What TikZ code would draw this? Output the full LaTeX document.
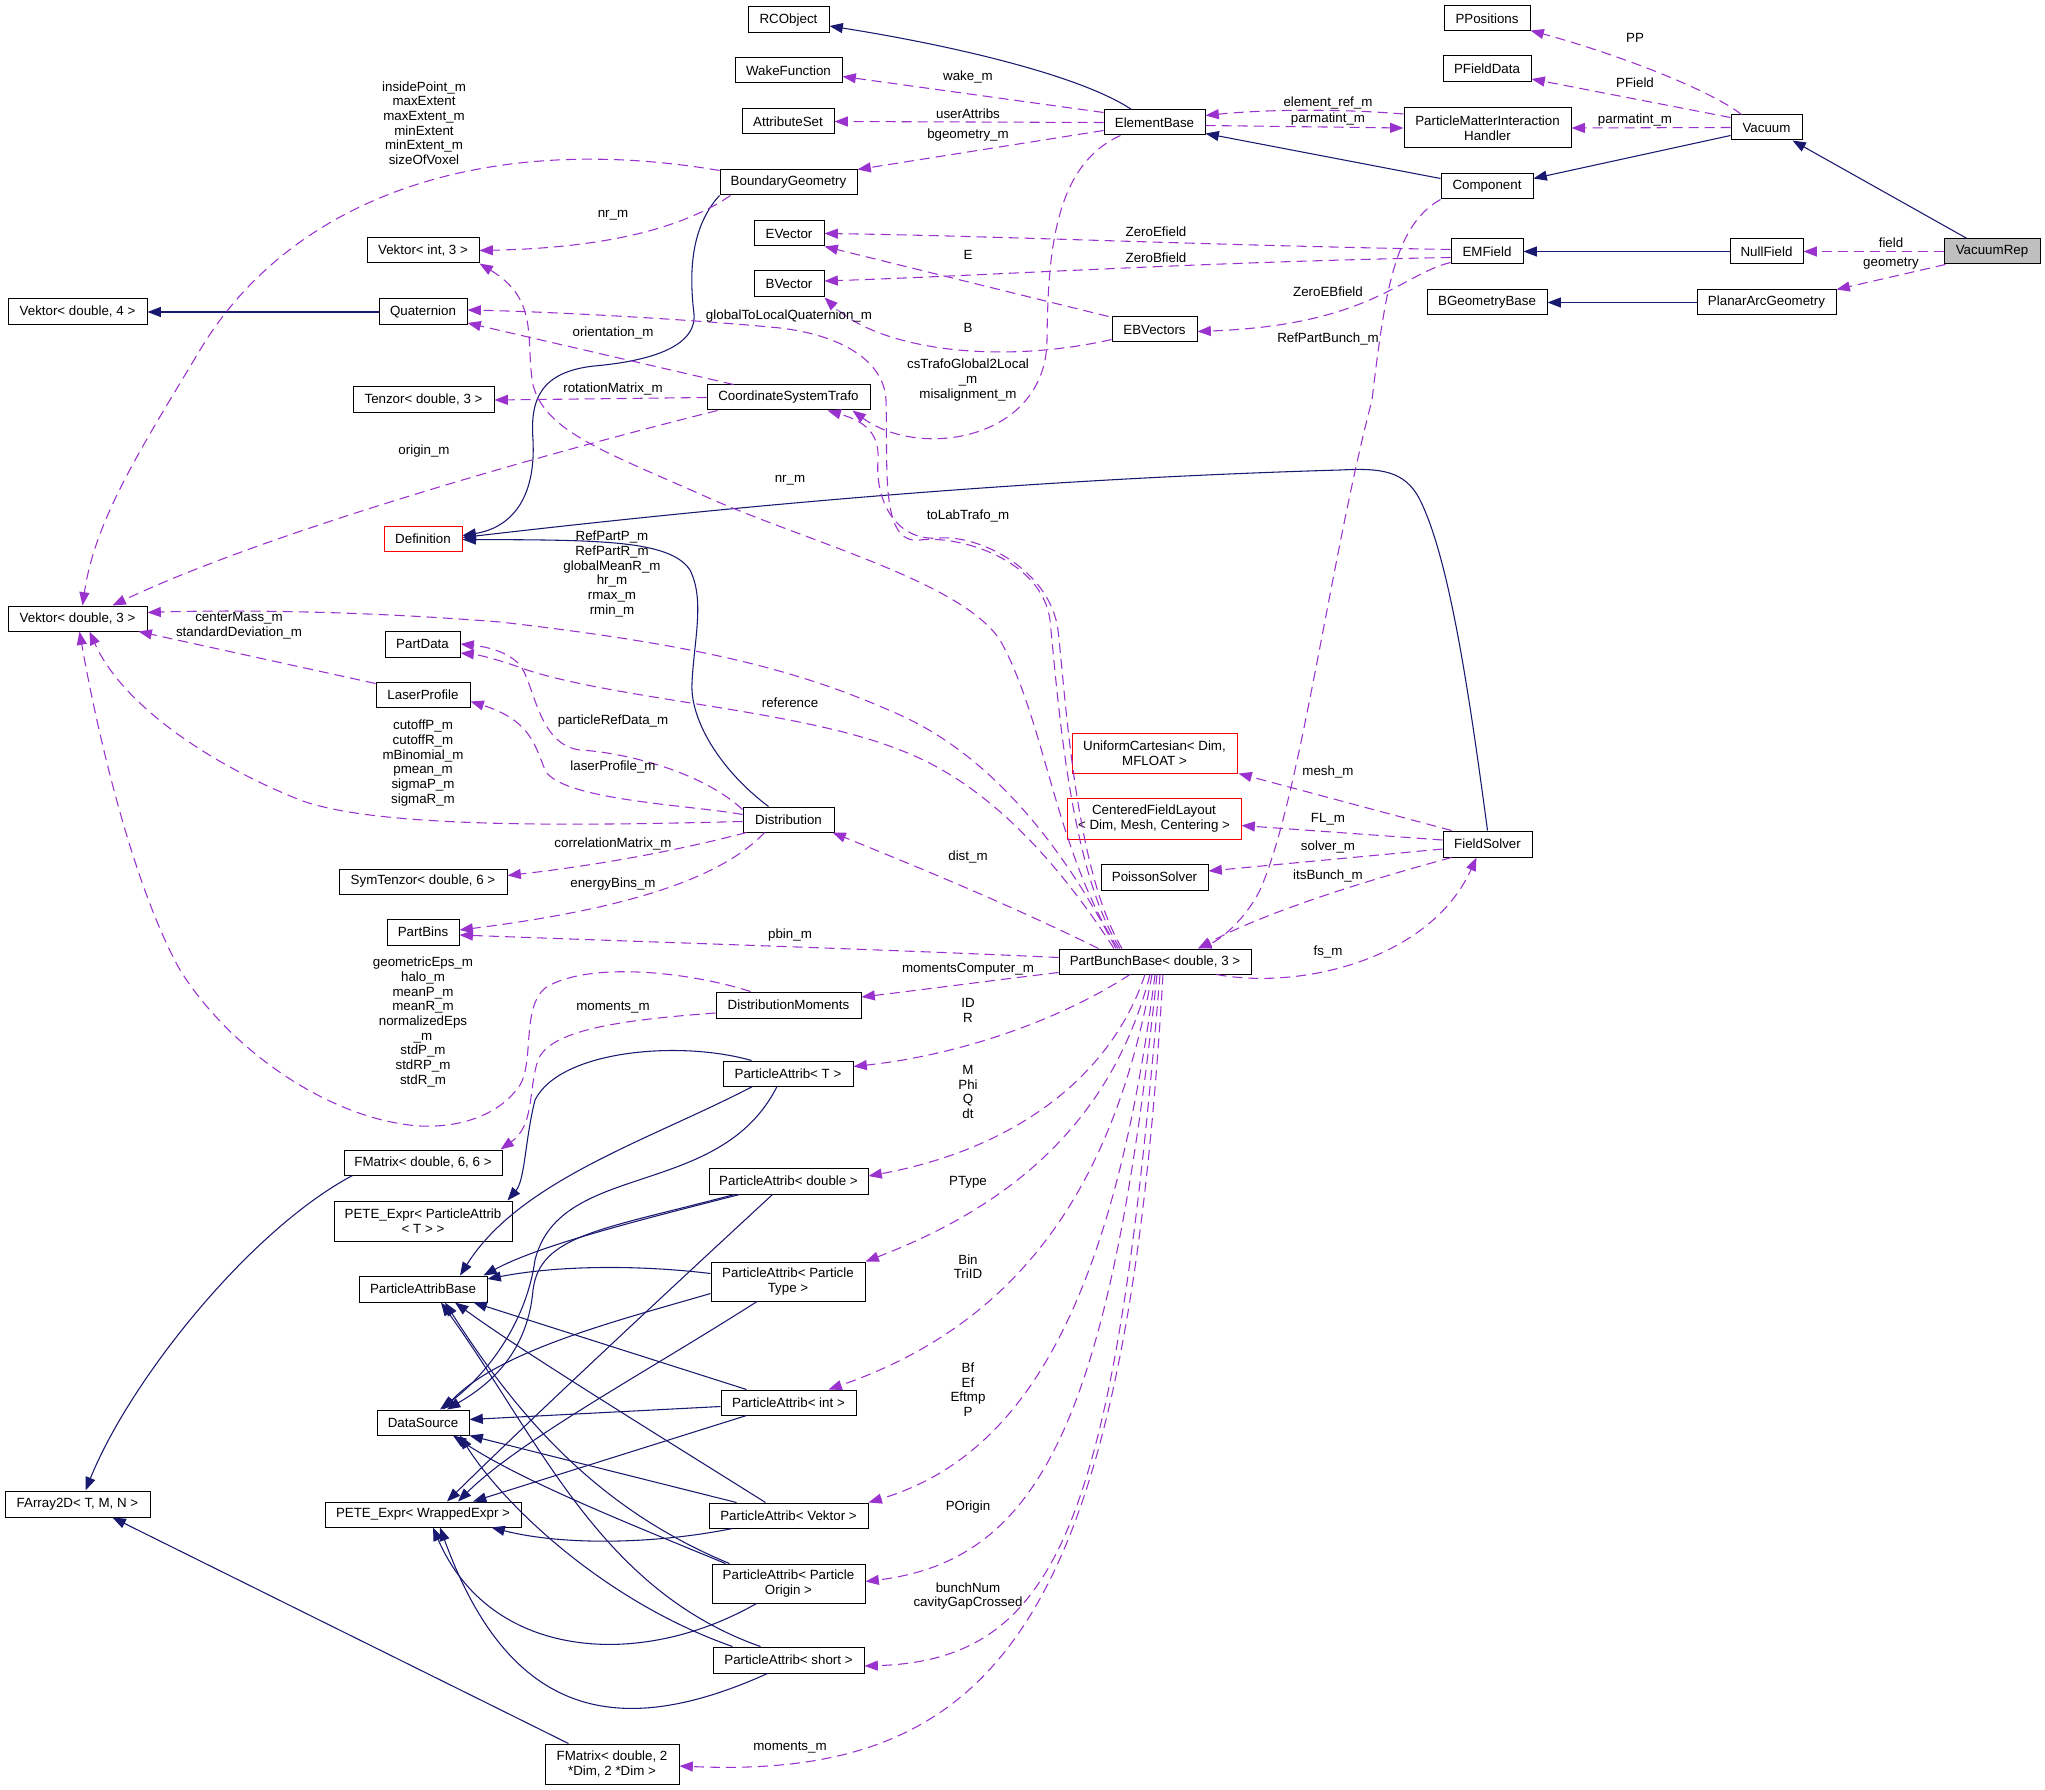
\documentclass[tikz,border=0pt]{standalone}
\usepackage{fontspec}
\setmainfont{Liberation Sans}
\usetikzlibrary{arrows.meta,calc}
\definecolor{navyc}{HTML}{191970}
\definecolor{purp}{HTML}{9A32CD}
\definecolor{grayfill}{HTML}{BFBFBF}
\newcommand\mybox[7][]{\node[box,#1,minimum width=#5*0.75pt,minimum height=#6*0.75pt] (#2) at (#3,#4) {#7};}
\begin{document}
\begin{tikzpicture}[x=0.75pt,y=-0.75pt,
  box/.style={draw=black,line width=0.75pt,fill=white,inner sep=1pt,align=center,font=\fontsize{10}{11}\selectfont},
  redbox/.style={draw=red},
  lbl/.style={inner sep=0pt,align=center,font=\fontsize{10}{11}\selectfont},
  inh/.style={draw=navyc,line width=0.8pt,-{Triangle[length=10pt,width=7.5pt]},fill=none},
  usage/.style={draw=purp,line width=0.8pt,dash pattern=on 7.5pt off 4.5pt,-{Triangle[length=10pt,width=7.5pt,fill=purp]},fill=none},
  arrows={[fill=navyc]}]
\fill[white] (0,0) rectangle (2045,1790);
\useasboundingbox (0,0) rectangle (2045,1790);
% nodes
\mybox{rcobject}{788.5}{20}{81}{26}{RCObject}
\mybox{wake}{788.5}{70.5}{107}{25}{WakeFunction}
\mybox{attrset}{788}{121.5}{92}{25}{AttributeSet}
\mybox{bgeom}{788.5}{182.5}{137}{25}{BoundaryGeometry}
\mybox{evec}{789}{233.5}{70}{25}{EVector}
\mybox{bvec}{789}{284}{70}{26}{BVector}
\mybox{cst}{788.5}{397.5}{163}{25}{CoordinateSystemTrafo}
\mybox{elembase}{1154.5}{122.5}{101}{25}{ElementBase}
\mybox{ebvec}{1154.5}{329.5}{85}{25}{EBVectors}
\mybox{vint}{423}{250.5}{112}{25}{Vektor< int, 3 >}
\mybox{vdfour}{77.5}{312}{139}{26}{Vektor< double, 4 >}
\mybox{quat}{423}{312}{88}{26}{Quaternion}
\mybox{tenzor}{423.5}{400}{141}{26}{Tenzor< double, 3 >}
\mybox[redbox]{defn}{423}{538.5}{78}{25}{Definition}
\mybox{vdthree}{77.5}{618.5}{139}{25}{Vektor< double, 3 >}
\mybox{partdata}{422.5}{644}{75}{26}{PartData}
\mybox{laser}{423}{694.5}{94}{25}{LaserProfile}
\mybox{symt}{423}{881.5}{168}{25}{SymTenzor< double, 6 >}
\mybox{partbins}{423}{932}{72}{26}{PartBins}
\mybox{distr}{788.5}{819.5}{91}{25}{Distribution}
\mybox{distmom}{788.5}{1005}{145}{26}{DistributionMoments}
\mybox{pat}{788}{1073.5}{130}{25}{ParticleAttrib< T >}
\mybox{pad}{788.5}{1181}{159}{26}{ParticleAttrib< double >}
\mybox{fmss}{423}{1162.5}{158}{25}{FMatrix< double, 6, 6 >}
\mybox{petepa}{423}{1221}{178}{40}{PETE\_Expr< ParticleAttrib\\< T > >}
\mybox{pab}{423}{1289}{128}{26}{ParticleAttribBase}
\mybox{papt}{788}{1281.5}{154}{39}{ParticleAttrib< Particle\\Type >}
\mybox{datasrc}{423}{1422.5}{92}{25}{DataSource}
\mybox{paint}{788.5}{1402.5}{135}{25}{ParticleAttrib< int >}
\mybox{farray}{77.5}{1504}{145}{26}{FArray2D< T, M, N >}
\mybox{petew}{423}{1514.5}{196}{25}{PETE\_Expr< WrappedExpr >}
\mybox{pavek}{788.5}{1515.5}{159}{25}{ParticleAttrib< Vektor >}
\mybox{papo}{788.5}{1583.5}{153}{39}{ParticleAttrib< Particle\\Origin >}
\mybox{pashort}{788.5}{1660}{151}{26}{ParticleAttrib< short >}
\mybox{fmtd}{612}{1764}{134}{40}{FMatrix< double, 2\\ *Dim, 2 *Dim >}
\mybox{pbb}{1155}{961.5}{192}{25}{PartBunchBase< double, 3 >}
\mybox[redbox]{unicart}{1154.5}{753}{165}{40}{UniformCartesian< Dim,\\MFLOAT >}
\mybox[redbox]{cfl}{1154}{818.5}{174}{41}{CenteredFieldLayout\\< Dim, Mesh, Centering >}
\mybox{poisson}{1154.5}{877}{107}{26}{PoissonSolver}
\mybox{fsolver}{1487.5}{844}{89}{26}{FieldSolver}
\mybox{ppos}{1487}{18.5}{86}{25}{PPositions}
\mybox{pfd}{1487}{69}{88}{26}{PFieldData}
\mybox{pmih}{1487.5}{128}{167}{40}{ParticleMatterInteraction\\Handler}
\mybox{vacuum}{1766.5}{127.5}{71}{25}{Vacuum}
\mybox{component}{1487}{186.5}{92}{25}{Component}
\mybox{emfield}{1487}{251.5}{72}{25}{EMField}
\mybox{nullfield}{1766.5}{251.5}{73}{25}{NullField}
\mybox[fill=grayfill]{vacrep}{1992}{251.5}{96}{25}{VacuumRep}
\mybox{bgeombase}{1487}{302.5}{120}{25}{BGeometryBase}
\mybox{planar}{1766.5}{302.5}{139}{25}{PlanarArcGeometry}
% inheritance edges
\draw[inh] ($(elembase.north)+(-23,0)$) .. controls (1080,75) and (950,45) .. ($(rcobject.east)+(0,6)$);
\draw[inh] ($(component.west)+(0,-8)$) -- ($(elembase.south east)+(0,-2)$);
\draw[inh] ($(vacuum.west)+(0,8)$) -- ($(component.east)+(0,-8)$);
\draw[inh] ($(vacrep.north)+(-25,0)$) -- ($(vacuum.south east)+(-10,0)$);
\draw[inh] (nullfield.west) -- (emfield.east);
\draw[inh] (planar.west) -- (bgeombase.east);
\draw[inh] (quat.west) -- (vdfour.east);
\draw[inh] (bgeom.south west) .. controls (688,230) and (690,280) .. (694,314) .. controls (697,350) and (640,362) .. (594,366) .. controls (540,372) and (530,400) .. (533,440) .. controls (536,500) and (510,528) .. ($(defn.east)+(0,-3)$);
\draw[inh] (fsolver.north) .. controls (1470,700) and (1450,560) .. (1420,500) .. controls (1405,470) and (1380,468) .. (1340,470) .. controls (1000,480) and (700,510) .. ($(defn.east)+(0,-1)$);
\draw[inh] ($(distr.north)+(-20,0)$) .. controls (720,770) and (690,720) .. (692,683) .. controls (694,640) and (705,600) .. (690,570) .. controls (670,540) and (600,540) .. ($(defn.east)+(0,1)$);
\draw[inh] ($(fmss.south west)+(9,0)$) .. controls (250,1230) and (130,1380) .. ($(farray.north)+(8,0)$);
\draw[inh] ($(fmtd.north west)+(24,0)$) -- ($(farray.south east)+(-38,0)$);
\draw[inh] ($(pat.north west)+(29,0)$) .. controls (680,1040) and (560,1050) .. (535,1100) .. controls (525,1140) and (525,1180) .. ($(petepa.north east)+(-5,0)$);
\draw[inh] ($(pat.south west)+(30,0)$) .. controls (650,1140) and (520,1180) .. ($(pab.north)+(37,0)$);
\draw[inh] ($(pat.south)+(-11,0)$) .. controls (720,1200) and (560,1160) .. (535,1260) .. controls (525,1330) and (480,1380) .. ($(datasrc.north)+(17,0)$);
\draw[inh] ($(pad.south west)+(31,0)$) .. controls (640,1220) and (540,1245) .. ($(pab.north east)+(-4,0)$);
\draw[inh] ($(pad.south west)+(26,0)$) .. controls (600,1230) and (540,1235) .. (533,1290) .. controls (527,1360) and (480,1390) .. ($(datasrc.north)+(24,0)$);
\draw[inh] ($(pad.south)+(-16,0)$) .. controls (680,1280) and (540,1410) .. ($(petew.north)+(24,0)$);
\draw[inh] ($(papt.west)+(0,-8)$) .. controls (640,1265) and (560,1265) .. ($(pab.east)+(0,-10)$);
\draw[inh] ($(papt.west)+(0,12)$) .. controls (620,1320) and (500,1350) .. ($(datasrc.north)+(20,0)$);
\draw[inh] ($(papt.south)+(-31,0)$) .. controls (650,1370) and (520,1440) .. ($(petew.north)+(35,0)$);
\draw[inh] ($(paint.north west)+(26,0)$) -- ($(pab.south east)+(-14,0)$);
\draw[inh] ($(paint.west)+(0,4)$) -- ($(datasrc.east)+(0,-3)$);
\draw[inh] ($(paint.south west)+(26,0)$) -- ($(petew.north)+(50,0)$);
\draw[inh] ($(pavek.north)+(-23,0)$) .. controls (650,1430) and (520,1350) .. ($(pab.south)+(32,0)$);
\draw[inh] ($(pavek.north west)+(28,0)$) -- (datasrc.south east);
\draw[inh] ($(pavek.south west)+(24,0)$) .. controls (650,1545) and (560,1545) .. ($(petew.south east)+(-30,0)$);
\draw[inh] ($(papo.north west)+(18,0)$) .. controls (600,1510) and (520,1420) .. ($(pab.south)+(22,0)$);
\draw[inh] ($(papo.north west)+(14,0)$) .. controls (620,1520) and (520,1480) .. ($(datasrc.south)+(30,0)$);
\draw[inh] ($(papo.south)+(-32,0)$) .. controls (640,1670) and (490,1660) .. ($(petew.south)+(10,0)$);
\draw[inh] ($(pashort.north)+(-28,0)$) .. controls (600,1590) and (540,1440) .. ($(pab.south)+(18,0)$);
\draw[inh] ($(pashort.north west)+(20,0)$) .. controls (600,1600) and (500,1500) .. ($(datasrc.south)+(37,0)$);
\draw[inh] ($(pashort.south)+(-21,0)$) .. controls (620,1740) and (510,1720) .. ($(petew.south)+(17,0)$);
% usage edges
\draw[usage] ($(vacuum.north)+(-25,0)$) .. controls (1710,90) and (1620,55) .. ($(ppos.south east)+(0,-1)$);
\draw[usage] ($(vacuum.north west)+(0,3)$) -- ($(pfd.east)+(0,10)$);
\draw[usage] (vacuum.west) -- (pmih.east);
\draw[usage] (vacrep.west) -- (nullfield.east);
\draw[usage] ($(vacrep.south west)+(2,0)$) -- (planar.north east);
\draw[usage] ($(elembase.north west)+(0,3)$) -- ($(wake.east)+(0,6)$);
\draw[usage] (elembase.west) -- (attrset.east);
\draw[usage] ($(elembase.west)+(0,8)$) -- (bgeom.north east);
\draw[usage] ($(elembase.east)+(0,3)$) -- (pmih.west);
\draw[usage] ($(pmih.west)+(0,-14)$) .. controls (1330,108) and (1260,110) .. ($(elembase.east)+(0,-7)$);
\draw[usage] ($(elembase.south)+(-34,0)$) .. controls (1055,165) and (1048,250) .. (1047,340) .. controls (1046,440) and (920,460) .. ($(cst.south east)+(-18,0)$);
\draw[usage] (component.south west) .. controls (1395,225) and (1385,290) .. (1372,400) .. controls (1330,560) and (1300,800) .. (1260,890) .. controls (1245,920) and (1220,940) .. ($(pbb.north)+(43,0)$);
\draw[usage] ($(emfield.west)+(0,-2)$) .. controls (1200,245) and (1000,236) .. (evec.east);
\draw[usage] ($(emfield.west)+(0,6)$) .. controls (1200,262) and (1000,275) .. ($(bvec.east)+(0,-3)$);
\draw[usage] ($(emfield.south west)+(0,-2)$) .. controls (1400,275) and (1370,325) .. ($(ebvec.east)+(0,2)$);
\draw[usage] ($(ebvec.north west)+(-3,0)$) -- (evec.south east);
\draw[usage] ($(ebvec.west)+(0,10)$) .. controls (1000,365) and (880,350) .. (bvec.south east);
\draw[usage] ($(bgeom.north west)+(0,1)$) .. controls (480,130) and (290,200) .. (200,350) .. controls (140,450) and (95,520) .. ($(vdthree.north)+(5,0)$);
\draw[usage] ($(bgeom.south west)+(11,0)$) .. controls (680,230) and (600,248) .. (vint.east);
\draw[usage] ($(cst.north west)+(27,0)$) -- ($(quat.east)+(0,11)$);
\draw[usage] (cst.west) -- (tenzor.east);
\draw[usage] ($(cst.south west)+(11,0)$) .. controls (500,465) and (250,540) .. ($(vdthree.north)+(35,0)$);
\draw[usage] ($(pbb.north)+(-35,0)$) .. controls (1070,870) and (1058,700) .. (1050,620) .. controls (1042,560) and (960,535) .. (920,540) .. controls (880,545) and (888,470) .. (886,400) .. controls (884,360) and (840,335) .. (780,328) .. controls (700,320) and (560,312) .. ($(quat.east)+(0,-2)$);
\draw[usage] ($(pbb.north)+(-33,0)$) .. controls (1075,870) and (1066,700) .. (1058,630) .. controls (1050,570) and (980,535) .. (940,538) .. controls (895,542) and (875,500) .. (878,460) .. controls (880,430) and (860,420) .. ($(cst.south east)+(-43,0)$);
\draw[usage] ($(pbb.north)+(-37,0)$) .. controls (1055,850) and (1045,720) .. (1000,640) .. controls (960,580) and (800,540) .. (700,494) .. controls (600,450) and (545,430) .. (533,385) .. controls (525,340) and (540,300) .. (vint.south east);
\draw[usage] ($(pbb.north)+(-39,0)$) .. controls (1070,860) and (1000,760) .. (900,715) .. controls (800,670) and (700,645) .. (500,622) .. controls (350,610) and (220,610) .. ($(vdthree.east)+(0,-6)$);
\draw[usage] ($(pbb.north)+(-41,0)$) .. controls (1050,850) and (980,780) .. (900,750) .. controls (800,710) and (620,700) .. (527,670) .. controls (500,660) and (480,655) .. ($(partdata.east)+(0,9)$);
\draw[usage] ($(distr.north west)+(0,3)$) .. controls (700,770) and (620,752) .. (580,750) .. controls (540,745) and (535,690) .. (522,668) .. controls (510,650) and (480,646) .. (partdata.east);
\draw[usage] ($(distr.west)+(0,-5)$) .. controls (690,805) and (560,800) .. (545,770) .. controls (535,745) and (530,720) .. ($(laser.east)+(0,7)$);
\draw[usage] ($(laser.north west)+(0,2)$) -- ($(vdthree.south east)+(-9,0)$);
\draw[usage] ($(distr.west)+(0,2)$) .. controls (600,825) and (380,830) .. (300,800) .. controls (200,760) and (120,700) .. ($(vdthree.south)+(12,0)$);
\draw[usage] ($(distr.south west)+(4,0)$) .. controls (680,850) and (600,865) .. ($(symt.east)+(0,-6)$);
\draw[usage] ($(distr.south)+(-24,0)$) .. controls (720,880) and (620,910) .. ($(partbins.east)+(0,-2)$);
\draw[usage] ($(pbb.north west)+(40,0)$) .. controls (1000,900) and (900,860) .. ($(distr.south east)+(-2,0)$);
\draw[usage] ($(pbb.west)+(0,-4)$) .. controls (900,950) and (650,942) .. ($(partbins.east)+(0,3)$);
\draw[usage] ($(pbb.south west)+(0,-2)$) .. controls (980,982) and (920,990) .. ($(distmom.east)+(0,-8)$);
\draw[usage] ($(distmom.north west)+(35,0)$) .. controls (700,975) and (600,960) .. (550,985) .. controls (520,1000) and (535,1060) .. (520,1085) .. controls (500,1115) and (460,1128) .. (420,1126) .. controls (330,1120) and (230,1050) .. (180,970) .. controls (130,880) and (95,720) .. ($(vdthree.south)+(2,0)$);
\draw[usage] ($(distmom.west)+(0,8)$) .. controls (620,1020) and (550,1030) .. (538,1060) .. controls (528,1090) and (535,1125) .. ($(fmss.north east)+(-2,0)$);
\draw[usage] ($(pbb.south)+(-25,0)$) .. controls (1060,1020) and (960,1055) .. ($(pat.east)+(0,-7)$);
\draw[usage] ($(pbb.south)+(-10,0)$) .. controls (1110,1080) and (1010,1150) .. ($(pad.east)+(0,-5)$);
\draw[usage] ($(pbb.south)+(-5,0)$) .. controls (1110,1130) and (1000,1210) .. (papt.north east);
\draw[usage] ($(pbb.south)+(-3,0)$) .. controls (1110,1210) and (1000,1330) .. ($(paint.north)+(40,0)$);
\draw[usage] (pbb.south) .. controls (1110,1330) and (1010,1460) .. (pavek.north east);
\draw[usage] ($(pbb.south)+(2,0)$) .. controls (1110,1420) and (1040,1560) .. ($(papo.east)+(0,-2)$);
\draw[usage] ($(pbb.south)+(5,0)$) .. controls (1115,1520) and (1060,1660) .. ($(pashort.east)+(0,6)$);
\draw[usage] ($(pbb.south)+(8,0)$) .. controls (1125,1620) and (1000,1780) .. ($(fmtd.east)+(0,2)$);
\draw[usage] ($(pbb.south east)+(-35,0)$) .. controls (1300,990) and (1430,960) .. ($(fsolver.south)+(-11,0)$);
\draw[usage] ($(fsolver.south west)+(9,0)$) .. controls (1350,885) and (1260,915) .. ($(pbb.north)+(43,0)$);
\draw[usage] ($(fsolver.north west)+(9,0)$) -- ($(unicart.south east)+(1,0)$);
\draw[usage] ($(fsolver.west)+(0,-4)$) -- ($(cfl.east)+(0,7)$);
\draw[usage] ($(fsolver.west)+(0,5)$) -- ($(poisson.east)+(0,-6)$);
% labels
\node[lbl] (lPP) at (1635,38) {PP};
\node[lbl] (lPField) at (1635,83) {PField};
\node[lbl] (lparmA) at (1635,120) {parmatint\_m};
\node[lbl] (lfield) at (1891,243) {field};
\node[lbl] (lgeom) at (1891,264) {geometry};
\node[lbl] (lwake) at (968,77) {wake\_m};
\node[lbl] (luser) at (968,114) {userAttribs};
\node[lbl] (lbgeom) at (968,135) {bgeometry\_m};
\node[lbl] (lelref) at (1328,103) {element\_ref\_m};
\node[lbl] (lparmB) at (1328,119) {parmatint\_m};
\node[lbl] (lzE) at (1156,232) {ZeroEfield};
\node[lbl] (lE) at (968,255) {E};
\node[lbl] (lzB) at (1156,258) {ZeroBfield};
\node[lbl] (lB) at (968,328) {B};
\node[lbl] (lzEB) at (1328,292) {ZeroEBfield};
\node[lbl] (lrpb) at (1328,339) {RefPartBunch\_m};
\node[lbl] (lglq) at (789,316) {globalToLocalQuaternion\_m};
\node[lbl] (lcst) at (968,380) {csTrafoGlobal2Local\\\_m\\misalignment\_m};
\node[lbl] (lnrA) at (790,480) {nr\_m};
\node[lbl] (ltolab) at (968,516) {toLabTrafo\_m};
\node[lbl] (linside) at (424,123) {insidePoint\_m\\maxExtent\\maxExtent\_m\\minExtent\\minExtent\_m\\sizeOfVoxel};
\node[lbl] (lnrB) at (613,215) {nr\_m};
\node[lbl] (lorient) at (613,333) {orientation\_m};
\node[lbl] (lrot) at (613,389) {rotationMatrix\_m};
\node[lbl] (lorigin) at (424,451) {origin\_m};
\node[lbl] (lrefp) at (612,574) {RefPartP\_m\\RefPartR\_m\\globalMeanR\_m\\hr\_m\\rmax\_m\\rmin\_m};
\node[lbl] (lcenter) at (239,625.5) {centerMass\_m\\standardDeviation\_m};
\node[lbl] (lref) at (790,703) {reference};
\node[lbl] (lprd) at (613,721) {particleRefData\_m};
\node[lbl] (llaser) at (613,767) {laserProfile\_m};
\node[lbl] (lcut) at (423,763) {cutoffP\_m\\cutoffR\_m\\mBinomial\_m\\pmean\_m\\sigmaP\_m\\sigmaR\_m};
\node[lbl] (lcorr) at (613,844) {correlationMatrix\_m};
\node[lbl] (lenergy) at (613,884) {energyBins\_m};
\node[lbl] (ldist) at (968,857) {dist\_m};
\node[lbl] (lpbin) at (790,935) {pbin\_m};
\node[lbl] (lmc) at (968,969) {momentsComputer\_m};
\node[lbl] (lgeo) at (423,1022) {geometricEps\_m\\halo\_m\\meanP\_m\\meanR\_m\\normalizedEps\\\_m\\stdP\_m\\stdRP\_m\\stdR\_m};
\node[lbl] (lmomA) at (613,1008) {moments\_m};
\node[lbl] (lID) at (968,1010.5) {ID\\R};
\node[lbl] (lM) at (968,1092) {M\\Phi\\Q\\dt};
\node[lbl] (lPType) at (968,1182) {PType};
\node[lbl] (lBin) at (968,1266.5) {Bin\\TriID};
\node[lbl] (lBf) at (968,1389.5) {Bf\\Ef\\Eftmp\\P};
\node[lbl] (lPO) at (968,1507) {POrigin};
\node[lbl] (lbunch) at (968,1596) {bunchNum\\cavityGapCrossed};
\node[lbl] (lmomB) at (790,1747) {moments\_m};
\node[lbl] (lmesh) at (1328,772) {mesh\_m};
\node[lbl] (lFL) at (1328,819) {FL\_m};
\node[lbl] (lsolver) at (1328,847) {solver\_m};
\node[lbl] (lits) at (1328,876) {itsBunch\_m};
\node[lbl] (lfs) at (1328,952) {fs\_m};
\end{tikzpicture}
\end{document}
